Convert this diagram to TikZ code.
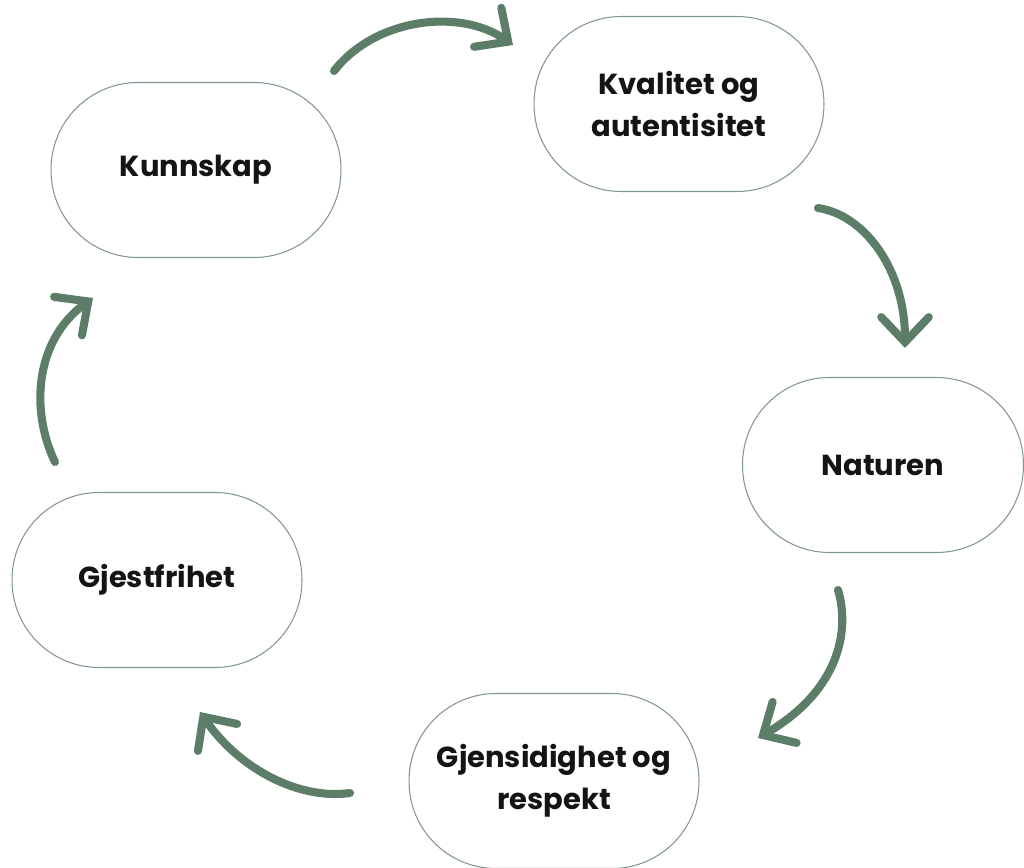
\documentclass[tikz,border=0pt]{standalone}
\usepackage{fontspec}
\setmainfont{Poppins}
\usetikzlibrary{arrows.meta}
\definecolor{leaf}{RGB}{92,125,104}
\definecolor{rim}{RGB}{128,152,136}

\begin{document}
\begin{tikzpicture}[x=0.02cm, y=-0.02cm,
    value/.style={draw=rim, line width=0.6pt, rectangle, rounded corners=1.74cm,
        minimum width=5.8cm, minimum height=3.5cm, inner sep=0pt, align=center,
        font=\fontsize{16.5}{24}\selectfont\bfseries, text=black!92},
    flow/.style={draw=leaf, line width=4.6pt, line cap=round,
        -{Straight Barb[length=0.5cm, width=0.95cm, line cap=round]}}]
        \useasboundingbox (0,0) rectangle (1024,868);

        \node[value] (kunn) at (196,170) {Kunnskap};
        \node[value] (kval) at (679,104) {Kvalitet og\\autentisitet};
        \node[value, minimum width=5.62cm] (nat) at (883,465) {Naturen};
        \node[value] (gjen) at (554,781) {Gjensidighet og\\respekt};
        \node[value] (gjest) at (157,580) {Gjestfrihet};

        \coordinate (a1) at (334,71);  \coordinate (b1) at (513,45);
        \coordinate (a2) at (818,208); \coordinate (b2) at (905,348);
        \coordinate (a3) at (838,590); \coordinate (b3) at (758,738);
        \coordinate (a4) at (350,793); \coordinate (b4) at (200,712);
        \coordinate (a5) at (55,462);  \coordinate (b5) at (93,298);

        \draw[flow] (a1) .. controls (375,18) and (460,8) .. (b1);
        \draw[flow] (a2) .. controls (865,215) and (905,270) .. (b2);
        \draw[flow] (a3) .. controls (850,630) and (840,690) .. (b3);
        \draw[flow] (a4) .. controls (300,800) and (240,770) .. (b4);
        \draw[flow] (a5) .. controls (30,410) and (35,340) .. (b5);
\end{tikzpicture}
\end{document}
